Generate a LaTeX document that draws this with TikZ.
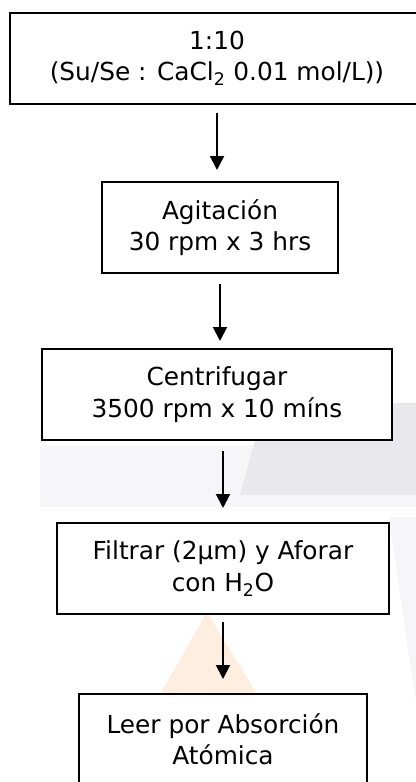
\documentclass[tikz,border=0pt]{standalone}
\usepackage{fontspec}
\setmainfont{DejaVu Sans}
\definecolor{mygray}{RGB}{232,232,237}
\definecolor{mylightgray}{RGB}{246,246,248}
\definecolor{myorange}{RGB}{254,238,224}
\usepackage{tikz}
\usetikzlibrary{arrows.meta}
\tikzset{every picture/.style={line width=0.75pt}}

\begin{document}
\begin{tikzpicture}[x=0.75pt,y=0.75pt,yscale=-1,xscale=1,
  caja/.style={draw, fill=white, line width=1.5pt, minimum height=68.25pt, inner sep=0pt, align=center, font=\fontsize{18.6}{23.6}\selectfont},
  flecha/.style={line width=1.5pt, -{Triangle[width=10.5pt,length=10.5pt]}}]
\clip (0,0) rectangle (416,782);
\fill[white] (0,0) rectangle (416,782);

%Shape: watermark bands
\fill[mylightgray] (40,445) -- (416,445) -- (416,507) -- (40,507) -- cycle;
\fill[mygray] (392,403) -- (416,403) -- (416,495) -- (240,495) -- (255,440) -- (392,440) -- cycle;
\fill[mylightgray] (389,517) -- (416,517) -- (416,700) -- (410,663) -- cycle;
%Shape: watermark triangle
\fill[myorange] (207,612) -- (257,694) -- (160,694) -- cycle;

% Text Node
\node[caja, minimum width=310.5pt] (b1) at (217,58.5) {1:10\\(Su/Se : CaCl\textsubscript{2} 0.01 mol/L))};
% Text Node
\node[caja, minimum width=177pt] (b2) at (220,227.5) {Agitación\\30 rpm x 3 hrs};
% Text Node
\node[caja, minimum width=262.5pt] (b3) at (217,394.5) {Centrifugar\\3500 rpm x 10 míns};
% Text Node
\node[caja, minimum width=249pt] (b4) at (223,568.5) {Filtrar (2μm) y Aforar\\con H\textsubscript{2}O};
% Text Node
\node[caja, minimum width=216pt] (b5) at (223,739.5) {Leer por Absorción\\Atómica};

%Arrows
\draw[flecha, shorten <=6pt, shorten >=8.25pt] (b1.south) -- (b1.south |- b2.north);
\draw[flecha, shorten <=7.5pt, shorten >=5.25pt] (b2.south) -- (b2.south |- b3.north);
\draw[flecha, shorten <=7.5pt, shorten >=10.5pt] (b3.south -| b4.north) -- (b4.north);
\draw[flecha, shorten <=5.25pt, shorten >=10.5pt] (b4.south) -- (b5.north);

\end{tikzpicture}
\end{document}
